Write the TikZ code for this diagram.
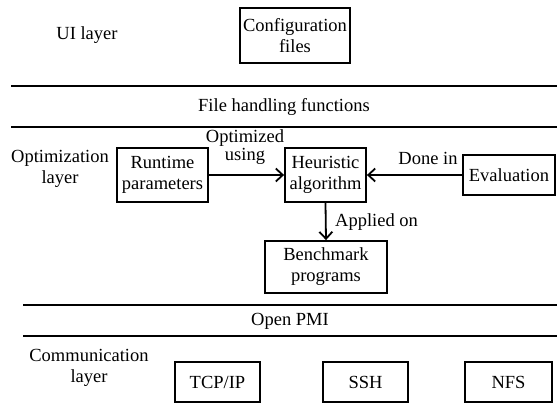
\documentclass[tikz,border=0pt]{standalone}
\usepackage{fontspec}
\setmainfont{Liberation Serif}
\usetikzlibrary{arrows.meta}
\tikzset{
  every node/.style={font=\fontsize{18.5}{21}\selectfont, inner sep=0pt, align=center},
  box/.style={draw, line width=1.8pt, inner sep=0pt},
  layerline/.style={line width=1.8pt},
  arr/.style={line width=1.8pt, -{Straight Barb[length=7pt,width=13pt]}}
}
\begin{document}
\begin{tikzpicture}[x=1pt,y=-1pt]
\useasboundingbox (0,0) rectangle (557,405);
% UI layer
\node (ui) at (87,35) {UI layer};
\node[box, minimum width=110pt, minimum height=55pt] (cfg) at (295,35.5) {Configuration\\files};
% layer lines
\draw[layerline] (11,86) -- (557,86);
\node (fh) at (284,107) {File handling functions};
\draw[layerline] (11,127) -- (557,127);
% optimization layer
\node (opt) at (60,169) {Optimization\\layer};
\node[box, minimum width=91pt, minimum height=54pt] (rt) at (162.5,175) {Runtime\\parameters};
\node[box, minimum width=81pt, minimum height=54pt] (heur) at (325.5,175) {Heuristic\\algorithm};
\node[box, minimum width=92pt, minimum height=40pt] (eval) at (509,175) {Evaluation};
\node[box, minimum width=122pt, minimum height=52pt] (bench) at (326,267) {Benchmark\\programs};
\draw[arr] (rt.east) -- (heur.west);
\draw[arr] (eval.west) -- (heur.east);
\draw[arr] (heur.south) -- (bench.north);
\node[font=\fontsize{18.5}{18}\selectfont] (lopt) at (245,147.5) {Optimized\\using};
\node (ldone) at (428,158) {Done in};
\node[anchor=west] (lapp) at (335,222) {Applied on};
% Open PMI
\draw[layerline] (23,305) -- (557,305);
\node (pmi) at (290,321) {Open PMI};
\draw[layerline] (23,336) -- (557,336);
% communication layer
\node (comm) at (89,368) {Communication\\layer};
\node[box, minimum width=85pt, minimum height=40pt] (tcp) at (217.5,382) {TCP/IP};
\node[box, minimum width=85pt, minimum height=40pt] (ssh) at (365.5,382) {SSH};
\node[box, minimum width=87pt, minimum height=40pt] (nfs) at (508.5,382) {NFS};
\end{tikzpicture}
\end{document}
